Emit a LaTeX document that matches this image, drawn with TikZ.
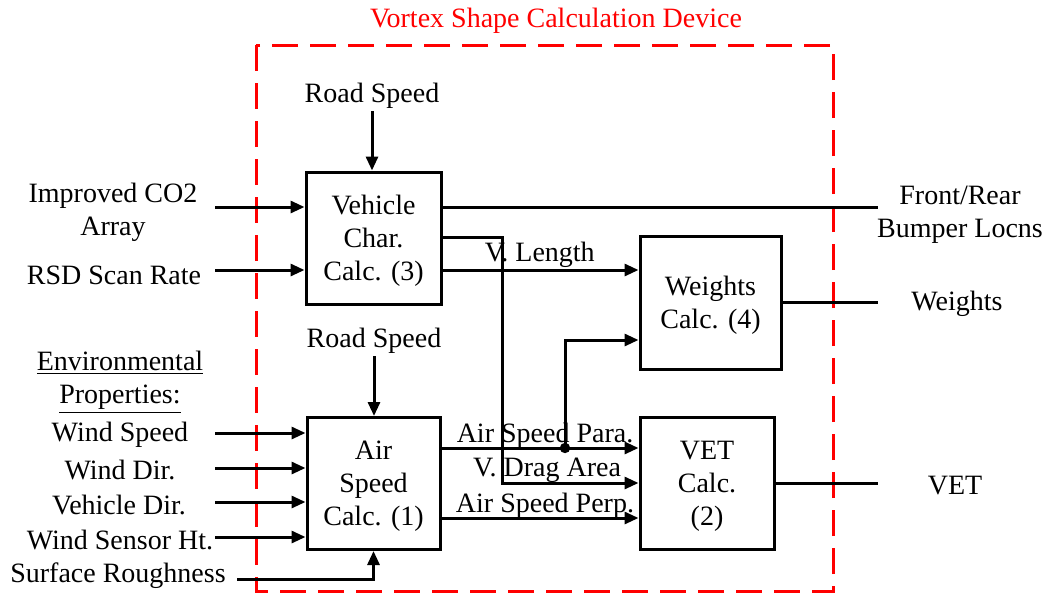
\documentclass[tikz,border=0pt]{standalone}
\usepackage{fontspec}
\setmainfont{Liberation Serif}
\usetikzlibrary{arrows.meta}

\begin{document}
\begin{tikzpicture}[x=0.5pt,y=-0.5pt,
    every node/.style={font=\fontsize{14pt}{16.5pt}\selectfont,align=center,inner sep=1pt},
    block/.style={draw,line width=1.5pt,minimum height=66pt,inner sep=2pt,text depth=0pt},
    arr/.style={line width=1.5pt,-{Triangle[length=7pt,width=6pt]}},
    wire/.style={line width=1.5pt},
    device/.style={draw=red,line width=1.5pt,dash pattern=on 13pt off 6pt}]
  \useasboundingbox (0,0) rectangle (1047,594);

  % device outline
  \draw[device] (256,45) rectangle (833,591);
  \node[text=red] (title) at (556,21) {Vortex Shape Calculation Device};

  % blocks
  \node[block,minimum width=67.5pt] (veh) at (373.5,238) {Vehicle\\Char.\\Calc. (3)};
  \node[block,minimum width=70.5pt,minimum height=66.5pt] (wts) at (710.5,302.5) {Weights\\Calc. (4)};
  \node[block,minimum width=66.5pt] (air) at (373.5,483.5) {Air\\Speed\\Calc. (1)};
  \node[block,minimum width=67pt] (vet) at (707,483.5) {VET\\Calc.\\(2)};

  % inputs
  \node (rs1) at (372,96) {Road Speed};
  \node (rs2) at (374,341) {Road Speed};
  \node (co2) at (113,212) {Improved CO2\\Array};
  \node (rsd) at (114,275) {RSD Scan Rate};
  \node (env) at (120,382) {\underline{Environmental}\\\underline{Properties:}};
  \node (ws) at (120,435) {Wind Speed};
  \node (wd) at (120,470) {Wind Dir.};
  \node (vd) at (119,505) {Vehicle Dir.};
  \node (wsh) at (120,540) {Wind Sensor Ht.};
  \node (sr) at (118,576) {Surface Roughness};

  \coordinate (co2in) at (215,207);
  \coordinate (rsdin) at (215,270);
  \coordinate (wsin) at (215,433);
  \coordinate (wdin) at (215,468);
  \coordinate (vdin) at (215,502);
  \coordinate (wshin) at (215,537);
  \coordinate (srin) at (237,579);

  \draw[arr] (rs1.south) -- (rs1.south |- veh.north);
  \draw[arr] (rs2.south) -- (rs2.south |- air.north);
  \draw[arr] (co2in) -- (co2in -| veh.west);
  \draw[arr] (rsdin) -- (rsdin -| veh.west);
  \draw[arr] (wsin) -- (wsin -| air.west);
  \draw[arr] (wdin) -- (wdin -| air.west);
  \draw[arr] (vdin) -- (vdin -| air.west);
  \draw[arr] (wshin) -- (wshin -| air.west);
  \draw[arr] (srin) -| (air.south);

  % inner connections
  \coordinate (drag) at (502,237);
  \coordinate (para) at (441,448);
  \coordinate (perp) at (441,518);
  \coordinate (len) at (441,270);
  \coordinate (tap) at (565,448);
  \coordinate (wtin) at (640,340);
  \draw[arr] (len) -- (len -| wts.west) node[midway,above=-0.5pt] (vlen) {V. Length};
  \draw[arr] (veh.east |- drag) -| (502,483) -- (vet.west |- 502,483);
  \draw[arr] (para) -- (para -| vet.west);
  \draw[arr] (perp) -- (perp -| vet.west);
  \draw[arr] (tap) |- (wtin -| wts.west);
  \fill (tap) circle (2.6pt);
  \node (lpara) at (545,436) {Air Speed Para.};
  \node (ldrag) at (547,470) {V. Drag Area};
  \node (lperp) at (545,506) {Air Speed Perp.};

  % outputs
  \coordinate (frout) at (878,207);
  \coordinate (wout) at (878,302);
  \coordinate (vout) at (878,483);
  \draw[wire] (veh.east |- frout) -- (frout);
  \draw[wire] (wts.east |- wout) -- (wout);
  \draw[wire] (vet.east |- vout) -- (vout);
  \node (fr) at (960,215) {Front/Rear\\Bumper Locns};
  \node (wt) at (957,304) {Weights};
  \node (vt) at (955,486) {VET};
\end{tikzpicture}
\end{document}
